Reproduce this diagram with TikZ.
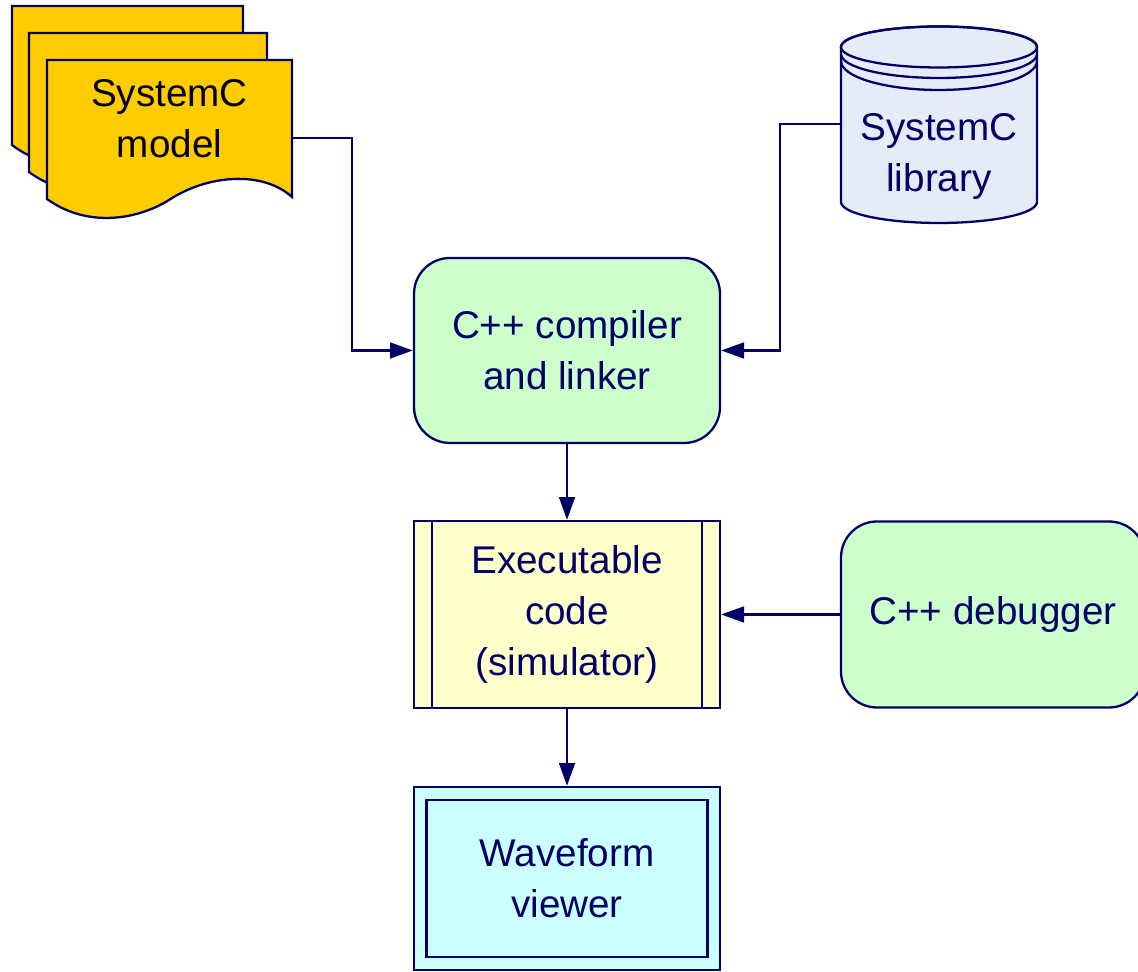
\documentclass[tikz,border=0pt]{standalone}
\usepackage{fontspec}
\setmainfont{Liberation Sans}
\usepackage{tikz}
\usetikzlibrary{positioning}
\usetikzlibrary{arrows.meta}
\definecolor{navy}{RGB}{0,0,102}
\definecolor{docyellow}{RGB}{255,204,0}
\definecolor{libblue}{RGB}{230,236,247}
\definecolor{lgreen}{RGB}{204,255,204}
\definecolor{lyellow}{RGB}{255,255,204}
\definecolor{lcyan}{RGB}{204,255,255}

% one sheet of the stacked document: x, y of top left corner, xscale
\newcommand{\paperdoc}[3]{\draw [docpage, shift={(#1,#2)}, xscale=#3] (0,0) -- (4.9,0) -- (4.9,-2.74) .. controls (4.3,-2.2) and (3.2,-2.3) .. (2.44,-2.8) .. controls (1.8,-3.2) and (0.8,-3.36) .. (0,-2.78) -- cycle;}

\begin{document}
\begin{tikzpicture}[>={Triangle[length=13pt,width=9pt]}, line width=1.3pt, color=navy]
			\tikzstyle{docpage}=[draw=navy, fill=docyellow]
			\tikzstyle{label}=[font=\fontsize{22}{29}\selectfont, text=navy, align=center]
			\tikzstyle{roundbox}=[label, rounded corners=0.72cm, draw=navy, fill=lgreen, minimum width=6.12cm, minimum height=3.7cm]
			\tikzstyle{execbox}=[label, draw=navy, fill=lyellow, minimum width=6.12cm, minimum height=3.74cm]
			\tikzstyle{execinner}=[draw=navy, minimum width=5.4cm, minimum height=3.74cm]
			\tikzstyle{viewbox}=[label, draw=navy, fill=lcyan, minimum width=6.12cm, minimum height=3.66cm]
			\tikzstyle{viewinner}=[draw=navy, minimum width=5.62cm, minimum height=3.14cm]
			
			\useasboundingbox (0,0) rectangle (22.76,19.44);
			
			\paperdoc{0.24}{19.32}{0.943}
			\paperdoc{0.58}{18.78}{0.971}
			\paperdoc{0.94}{18.24}{1}
			\draw node at (3.39, 17.07) [label, text=black] (model) {SystemC\\model};
			\coordinate (modelout) at (5.84, 16.68);
			
			\node at (18.78, 16.96) [minimum width=3.92cm, minimum height=3.96cm] (library) {};
			\draw [fill=libblue] (16.82,18.50) -- (16.82,15.40) arc [start angle=180, end angle=360, x radius=1.96cm, y radius=0.42cm] -- (20.74,18.50) arc [start angle=0, end angle=180, x radius=1.96cm, y radius=0.41cm] -- cycle;
			\draw (18.78,18.50) ellipse [x radius=1.96cm, y radius=0.41cm];
			\draw (16.82,18.36) arc [start angle=180, end angle=360, x radius=1.96cm, y radius=0.48cm];
			\draw (16.82,18.22) arc [start angle=180, end angle=360, x radius=1.96cm, y radius=0.58cm];
			\draw node at (18.78, 16.31) [label] (libtext) {SystemC\\library};
			
			\draw node at (11.34, 12.43) [roundbox] (compiler) {C++ compiler\\and linker};
			
			\draw node at (11.34, 7.15) [execbox] (exec) {Executable\\code\\(simulator)};
			\draw node at (11.34, 7.15) [execinner] {};
			
			\draw node at (19.86, 7.15) [roundbox, minimum width=6.08cm, minimum height=3.72cm] (debugger) {C++ debugger};
			
			\draw node at (11.34, 1.87) [viewbox] (viewer) {Waveform\\viewer};
			\draw node at (11.34, 1.87) [viewinner] {};
			
			\draw [->]  (modelout) -- ++(1.2,0) |- (compiler.west);
			\draw [->]  (library.west) -- ++(-1.2,0) |- (compiler.east);
			\draw [->]  (compiler) to (exec);
			\draw [->]  (debugger) to (exec);
			\draw [->]  (exec) to (viewer);
		\end{tikzpicture}
\end{document}
